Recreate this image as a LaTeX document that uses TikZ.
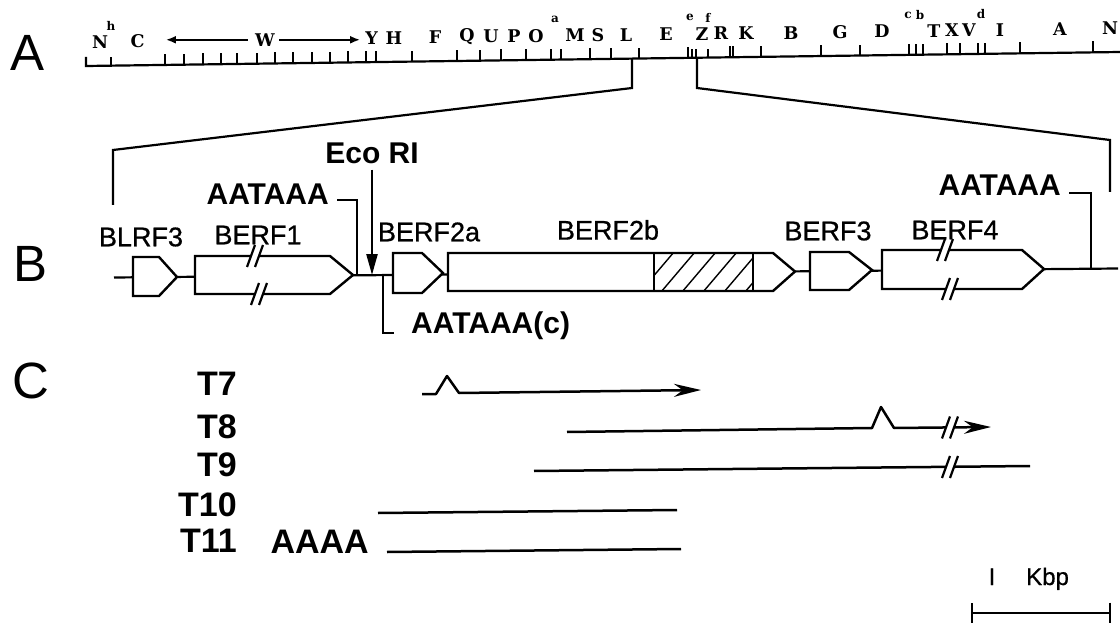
\documentclass[tikz,border=0pt]{standalone}
\usepackage{fontspec}
\setmainfont{Liberation Sans}
\newfontfamily\mapserif{DejaVu Serif}
\newfontfamily\orffont[FakeBold=0.7]{Liberation Sans}
\usepackage{tikz}
\usetikzlibrary{arrows.meta, positioning, calc}

\newcommand{\cutmark}[2]{%
  \fill[white] (#1-4,#2-4) rectangle (#1+4,#2+4);
  \draw[line width=2.2pt] (#1-8,#2+11) -- (#1,#2-11) (#1,#2+11) -- (#1+8,#2-11);}

\begin{document}
\begin{tikzpicture}[x=1pt, y=-1pt,
    panel/.style={font=\fontsize{51}{51}\selectfont, inner sep=0pt},
    mapline/.style={line width=2.2pt},
    sitetick/.style={line width=1.6pt},
    heavytick/.style={line width=2.8pt},
    sitelbl/.style={font=\mapserif\bfseries\fontsize{17.5}{17.5}\selectfont, inner sep=0pt},
    sitesup/.style={font=\mapserif\bfseries\fontsize{12}{12}\selectfont, inner sep=0pt},
    spanarrow/.style={-{Latex[length=10pt,width=8pt]}, line width=1.8pt},
    orf/.style={draw, fill=white, line width=2.4pt, line join=miter},
    orflbl/.style={font=\orffont\fontsize{27}{27}\selectfont, inner sep=0pt},
    signal/.style={font=\bfseries\fontsize{30}{30}\selectfont, inner sep=0pt},
    pointer/.style={line width=2.4pt},
    transcript/.style={line width=2.5pt, line join=round},
    rna/.style={-{Stealth[length=27pt,width=13pt]}},
    txlbl/.style={font=\bfseries\fontsize{34}{34}\selectfont, inner sep=0pt, anchor=east},
    hatch/.style={line width=1.4pt},
    scalelbl/.style={font=\orffont\fontsize{24}{24}\selectfont, inner sep=0pt}
]
\useasboundingbox (0,0) rectangle (1120,623);
\fill[white] (0,0) rectangle (1120,623);

\node[panel] (panelA) at (28,53) {A};
\node[panel] (panelB) at (31,264) {B};
\node[panel] (panelC) at (31,381) {C};

\coordinate (mapL) at (86,66);
\coordinate (mapR) at (1120,52);
\draw[mapline] (86,57) -- (mapL) -- (mapR);
\foreach \x in {165,184,202.7,220.7,236.7,256.7,275,293,311.7,330,348,366,376,412,457,480,501,526,551,561,590,611,639,688,730,733,761,821,860,909,916,923,947,960,978,985,1020,1093}
  \draw[sitetick] (\x,{66-0.0135*(\x-86)}) -- ++(0,-11);
\foreach \x in {111,692,696,708}
  \draw[heavytick] (\x,{66-0.0135*(\x-86)}) -- ++(0,-9);
\foreach \x/\t [count=\n] in {100/N,137.5/C,265/W,371.7/Y,394/H,435/F,467/Q,491/U,514/P,536/O,575/M,598/S,626/L,666/E,702/Z,721/R,746/K,791/B,840/G,882/D,934/T,952/X,969/V,1000/I,1060/A,1110/N}
  \node[sitelbl] (site\n) at (\x,{42-0.0135*(\x-100)}) {\t};
\foreach \x/\t [count=\n] in {111/h,555/a,690/e,708/f,908/c,920/b,981/d}
  \node[sitesup] (sup\n) at (\x,{66-0.0135*(\x-86)-40}) {\t};
\draw[spanarrow] ([xshift=-7pt]site3.west) -- ++(-82,0);
\draw[spanarrow] ([xshift=4pt]site3.east) -- ++(81,0);

\coordinate (cutL) at (632,{66-0.0135*(632-86)});
\coordinate (cutR) at (697,{66-0.0135*(697-86)});
\draw[mapline] (cutL) -- (632,88) -- (113,150) -- (113,205);
\draw[mapline] (cutR) -- (697,88) -- (1110,140) -- (1110,192);

\coordinate (bstart) at (114,277.5);
\coordinate (bend) at (1118,268.5);
\draw[mapline] (bstart) -- (bend);
\draw[orf] (133,257) -- (159,257) -- (177,277) -- (159,296) -- (133,296) -- cycle;
\draw[orf] (195,256) -- (330,256) -- (353,275) -- (330,294) -- (195,294) -- cycle;
\cutmark{255}{256}
\cutmark{259}{294}
\draw[orf] (393,253) -- (422,253) -- (443,273) -- (422,293) -- (393,293) -- cycle;
\draw[orf] (448,253) -- (773,253) -- (795,271.5) -- (773,291) -- (448,291) -- cycle;
\begin{scope}
  \clip (654,254) rectangle (753,290);
  \foreach \h in {-1,...,6} \draw[hatch] (640+21*\h,292) -- ++(34,-40);
\end{scope}
\draw[mapline] (654,253) -- (654,291) (753,253) -- (753,291);
\draw[orf] (810,252) -- (849,252) -- (872,270) -- (849,290) -- (810,290) -- cycle;
\draw[orf] (882,250) -- (1022,250) -- (1044,269) -- (1022,289) -- (882,289) -- cycle;
\cutmark{945}{250}
\cutmark{950}{289}

\node[orflbl] (blrf3) at (141,237) {BLRF3};
\node[orflbl] (berf1) at (258,235) {BERF1};
\node[orflbl] (berf2a) at (429,232) {BERF2a};
\node[orflbl] (berf2b) at (608,230) {BERF2b};
\node[orflbl] (berf3) at (828,231) {BERF3};
\node[orflbl] (berf4) at (955,230) {BERF4};

\node[signal, anchor=east] (polyA1) at (329,194) {AATAAA};
\coordinate (polyA1site) at (357,275.5);
\draw[pointer] ([shift={(8,6)}]polyA1.east) -| (polyA1site);
\node[signal] (ecori) at (372,153) {Eco RI};
\coordinate (ecosite) at (372,275);
\draw[pointer, -{Triangle[length=21pt,width=11pt]}, shorten <=6pt] (ecori.south) -- (ecosite);
\node[signal, anchor=base west] (polyAc) at (411,333) {AATAAA(c)};
\coordinate (polyAcsite) at (383,275.5);
\draw[pointer] (polyAcsite) |- ([xshift=-17pt]polyAc.base west);
\node[signal, anchor=east] (polyA2) at (1061,185) {AATAAA};
\coordinate (polyA2site) at (1091,269);
\draw[pointer] ([shift={(8,8)}]polyA2.east) -| (polyA2site);

\node[txlbl] (t7) at (237,384) {T7};
\node[txlbl] (t8) at (237,426.5) {T8};
\node[txlbl] (t9) at (237,465) {T9};
\node[txlbl] (t10) at (237,504.5) {T10};
\node[txlbl] (t11) at (237,540.5) {T11};
\node[txlbl] (polyAtail) at (369,541.5) {AAAA};

\draw[transcript, rna] (422,394) -- (436,394) -- (447,376) -- (459,393) -- (701,390);
\draw[transcript, rna] (567,432) -- (872,428) -- (881,407) -- (894,428) -- (991,427);
\cutmark{950}{427.5}
\draw[transcript] (534,471) -- (1030,466);
\cutmark{950}{467}
\draw[transcript] (378,513) -- (677,510);
\draw[transcript] (387,552) -- (681,549);

\node[scalelbl, anchor=base] (kbpone) at (992,585) {I};
\node[scalelbl, anchor=base west] (kbp) at (1026,585) {Kbp};
\coordinate (barL) at (971,613);
\coordinate (barR) at (1111,613);
\draw[mapline, {Bar[width=21pt]}-{Bar[width=21pt]}] (barL) -- (barR);
\end{tikzpicture}
\end{document}
